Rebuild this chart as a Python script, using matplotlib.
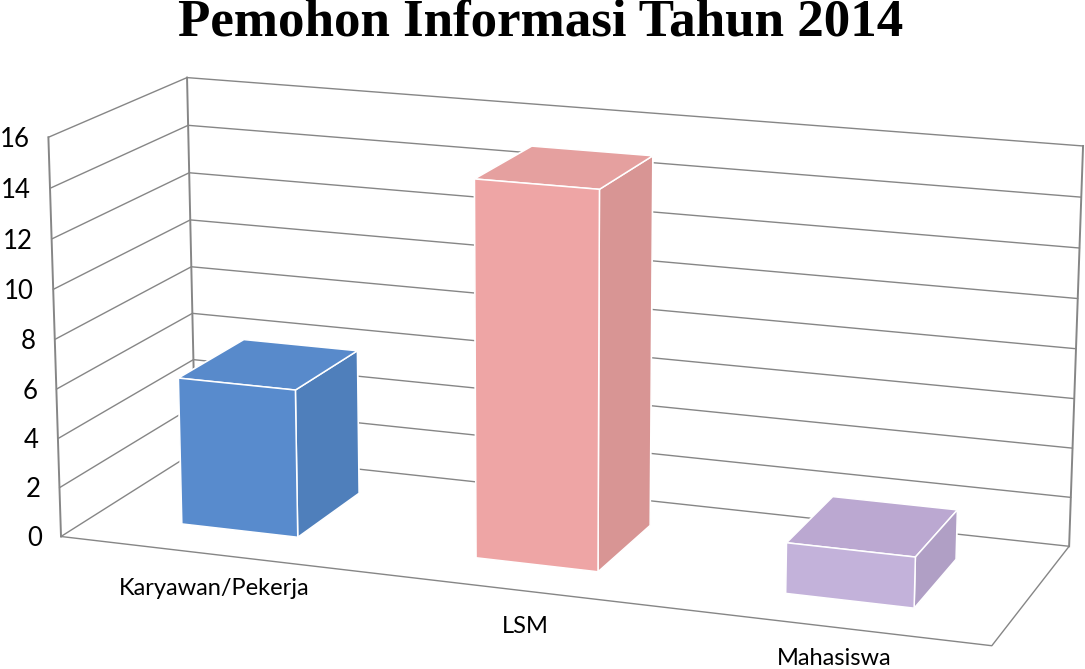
import numpy as np
import matplotlib
matplotlib.use("Agg")
import matplotlib.pyplot as plt
from mpl_toolkits.mplot3d import proj3d

title = "Pemohon Informasi Tahun 2014"
categories = ["Karyawan/Pekerja", "LSM", "Mahasiswa"]
values = [6, 15, 2]
z_ticks = [0, 2, 4, 6, 8, 10, 12, 14, 16]

# bottom, top, front, back, left, right faces
face_colors = [
    ["#588BCD", "#588ACB", "#588BCD", "#588BCD", "#4F7FBB", "#4F7FBB"],
    ["#EEA5A5", "#E5A09F", "#EEA5A5", "#EEA5A5", "#D89594", "#D89594"],
    ["#C3B2DA", "#BBA8D1", "#C3B2DA", "#C3B2DA", "#B09FC5", "#B09FC5"],
]

W, H = 1085, 669
GRID = "#868686"

# Camera: fit from the plot-box corners as seen in the picture
box_3d = np.array([[0,0,0],[3,0,0],[0,1,0],[3,1,0],[0,0,16],[0,1,16],[3,1,16],[0,0,8],[0,1,8]], float)
box_px = np.array([[61,536],[992,646],[195,452],[1069,546],[48,138],[187,77],[1083,146],[55,339],[192,267]], float)
rows, rhs = [], []
for (x, y, z), (u, v) in zip(box_3d, box_px):
    rows.append([x, y, z, 1, 0, 0, 0, 0, -u*x, -u*y, -u*z]); rhs.append(u)
    rows.append([0, 0, 0, 0, x, y, z, 1, -v*x, -v*y, -v*z]); rhs.append(v)
sol = np.linalg.lstsq(np.array(rows), np.array(rhs), rcond=None)[0]
P = np.append(sol, 1).reshape(3, 4)

fig = plt.figure(figsize=(W/100, H/100), dpi=100, facecolor="white")
ax = fig.add_axes([0, 0, 1, 1], projection="3d")
ax.set_axis_off()
ax.patch.set_alpha(0)

# Replace the default camera with the fitted one
x0, x1 = ax.viewLim.intervalx
y0, y1 = ax.viewLim.intervaly
M = np.array([
    x0*P[2] + (x1-x0)/W*P[0],
    y1*P[2] - (y1-y0)/H*P[1],
    -2*P[2] + np.array([-0.1, 1.0, -0.01, 0.0]),
    P[2],
])
ax.get_proj = lambda: M
ax.apply_aspect = lambda position=None: None

lkw = dict(color=GRID, lw=1.0, solid_capstyle="round")
for t in z_ticks:
    ax.plot([0, 0, 3], [0, 1, 1], [t, t, t], **lkw)
ax.plot([0, 0], [0, 0], [0, 16], color=GRID, lw=1.4)
ax.plot([0, 0], [1, 1], [0, 16], color=GRID, lw=1.4)
ax.plot([3, 3], [1, 1], [0, 16], color=GRID, lw=1.4)
ax.plot([0, 3, 3], [0, 0, 1], [0, 0, 0], **lkw)

for i, (val, cols) in enumerate(zip(values, face_colors)):
    ax.bar3d(i + 0.3, 0.25, 0, 0.4, 0.5, val, color=cols, shade=False,
             edgecolor="white", linewidth=1.1)

ax.set_xlim3d(0, 3); ax.set_ylim3d(0, 1); ax.set_zlim3d(0, 16)

def label(x, y, z, s, dx, dy, **kw):
    px, py, _ = proj3d.proj_transform(x, y, z, M)
    ax.annotate(s, xy=(float(px), float(py)), xycoords="data",
                xytext=(dx*0.72, -dy*0.72), textcoords="offset points",
                family="Lato", color="black", va="center", **kw)

for t in z_ticks:
    label(0, 0, t, str(t), -19, 2, ha="right", fontsize=18.5)

label_dx = [7.5, 17, 9]
label_dy = [3, 5, -1]
for i, c in enumerate(categories):
    label(i + 0.5, 0, -1.3, c, label_dx[i], label_dy[i], ha="center", fontsize=17)

fig.text(541/W, 1 - 36/H, title, ha="center", va="baseline", family="Liberation Serif",
         fontweight="bold", fontsize=38.2, color="black")
fig.savefig("out.png", dpi=100)
